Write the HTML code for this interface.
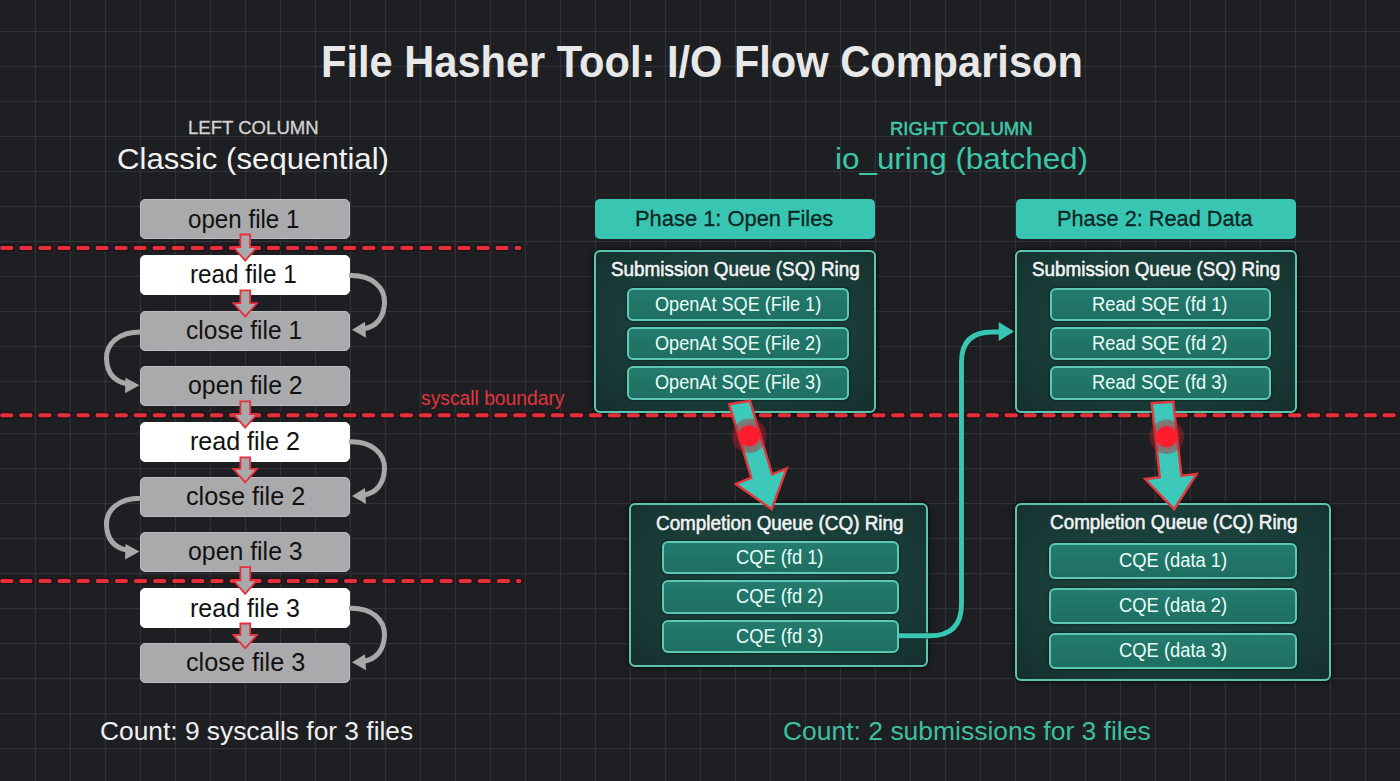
<!DOCTYPE html>
<html><head><meta charset="utf-8"><title>File Hasher Tool: I/O Flow Comparison</title>
<style>
html,body{margin:0;padding:0;}
body{width:1400px;height:781px;overflow:hidden;background:#1e1f22;position:relative;font-family:"Liberation Sans",sans-serif;}
.abs{position:absolute;box-sizing:border-box;}
.t{position:absolute;white-space:nowrap;line-height:1;transform-origin:0 0;}
.lbox{border:1px solid;border-radius:5px;}
.phase{background:#38c6b2;border-radius:5px;}
.ring{border:2.4px solid #5cc4b0;border-radius:6px;background:radial-gradient(ellipse at 50% 45%, #1e4844 0%, #193c38 60%, #152f2d 100%);box-shadow:0 0 0 1px rgba(4,18,18,.7),0 0 6px rgba(0,0,0,.6);}
.item{border:2.4px solid #5ec8b6;border-radius:6px;background:linear-gradient(#247b6d,#1e6f62);box-shadow:0 0 2px 1px rgba(0,20,18,.45);}
</style></head><body>
<svg class="abs" width="1400" height="781" style="left:0;top:0"><g stroke="#313236" stroke-width="1.2"><line x1="35.4" y1="0" x2="35.4" y2="781"/><line x1="70.4" y1="0" x2="70.4" y2="781"/><line x1="105.4" y1="0" x2="105.4" y2="781"/><line x1="140.4" y1="0" x2="140.4" y2="781"/><line x1="175.4" y1="0" x2="175.4" y2="781"/><line x1="210.4" y1="0" x2="210.4" y2="781"/><line x1="245.4" y1="0" x2="245.4" y2="781"/><line x1="280.4" y1="0" x2="280.4" y2="781"/><line x1="315.4" y1="0" x2="315.4" y2="781"/><line x1="350.4" y1="0" x2="350.4" y2="781"/><line x1="385.4" y1="0" x2="385.4" y2="781"/><line x1="420.4" y1="0" x2="420.4" y2="781"/><line x1="455.4" y1="0" x2="455.4" y2="781"/><line x1="490.4" y1="0" x2="490.4" y2="781"/><line x1="525.4" y1="0" x2="525.4" y2="781"/><line x1="560.4" y1="0" x2="560.4" y2="781"/><line x1="595.4" y1="0" x2="595.4" y2="781"/><line x1="630.4" y1="0" x2="630.4" y2="781"/><line x1="665.4" y1="0" x2="665.4" y2="781"/><line x1="700.4" y1="0" x2="700.4" y2="781"/><line x1="735.4" y1="0" x2="735.4" y2="781"/><line x1="770.4" y1="0" x2="770.4" y2="781"/><line x1="805.4" y1="0" x2="805.4" y2="781"/><line x1="840.4" y1="0" x2="840.4" y2="781"/><line x1="875.4" y1="0" x2="875.4" y2="781"/><line x1="910.4" y1="0" x2="910.4" y2="781"/><line x1="945.4" y1="0" x2="945.4" y2="781"/><line x1="980.4" y1="0" x2="980.4" y2="781"/><line x1="1015.4" y1="0" x2="1015.4" y2="781"/><line x1="1050.4" y1="0" x2="1050.4" y2="781"/><line x1="1085.4" y1="0" x2="1085.4" y2="781"/><line x1="1120.4" y1="0" x2="1120.4" y2="781"/><line x1="1155.4" y1="0" x2="1155.4" y2="781"/><line x1="1190.4" y1="0" x2="1190.4" y2="781"/><line x1="1225.4" y1="0" x2="1225.4" y2="781"/><line x1="1260.4" y1="0" x2="1260.4" y2="781"/><line x1="1295.4" y1="0" x2="1295.4" y2="781"/><line x1="1330.4" y1="0" x2="1330.4" y2="781"/><line x1="1365.4" y1="0" x2="1365.4" y2="781"/><line x1="0" y1="31.5" x2="1400" y2="31.5"/><line x1="0" y1="66.5" x2="1400" y2="66.5"/><line x1="0" y1="101.5" x2="1400" y2="101.5"/><line x1="0" y1="136.5" x2="1400" y2="136.5"/><line x1="0" y1="171.5" x2="1400" y2="171.5"/><line x1="0" y1="206.5" x2="1400" y2="206.5"/><line x1="0" y1="241.5" x2="1400" y2="241.5"/><line x1="0" y1="276.5" x2="1400" y2="276.5"/><line x1="0" y1="311.5" x2="1400" y2="311.5"/><line x1="0" y1="346.5" x2="1400" y2="346.5"/><line x1="0" y1="381.5" x2="1400" y2="381.5"/><line x1="0" y1="433.7" x2="1400" y2="433.7"/><line x1="0" y1="468.7" x2="1400" y2="468.7"/><line x1="0" y1="503.7" x2="1400" y2="503.7"/><line x1="0" y1="538.7" x2="1400" y2="538.7"/><line x1="0" y1="573.7" x2="1400" y2="573.7"/><line x1="0" y1="608.7" x2="1400" y2="608.7"/><line x1="0" y1="643.7" x2="1400" y2="643.7"/><line x1="0" y1="678.7" x2="1400" y2="678.7"/><line x1="0" y1="713.7" x2="1400" y2="713.7"/><line x1="0" y1="748.7" x2="1400" y2="748.7"/></g></svg>
<svg class="abs" width="1400" height="781" style="left:0;top:0"><line x1="0.3" y1="248" x2="519.5" y2="248" stroke="#2a0a10" stroke-opacity="0.6" stroke-width="7" stroke-linecap="round" stroke-dasharray="9.4 9.65" stroke-dashoffset="-1.8"/><line x1="0.3" y1="415.2" x2="341" y2="415.2" stroke="#2a0a10" stroke-opacity="0.6" stroke-width="7" stroke-linecap="round" stroke-dasharray="9.4 9.67" stroke-dashoffset="-1.8"/><line x1="343.2" y1="415.2" x2="1400" y2="415.2" stroke="#2a0a10" stroke-opacity="0.6" stroke-width="7" stroke-linecap="round" stroke-dasharray="9.4 9.499999999999998" stroke-dashoffset="-1.8"/><line x1="0.3" y1="581" x2="519.5" y2="581" stroke="#2a0a10" stroke-opacity="0.6" stroke-width="7" stroke-linecap="round" stroke-dasharray="9.4 9.700000000000001" stroke-dashoffset="-1.8"/></svg>
<div class="abs lbox" style="left:140px;top:199px;width:210px;height:40px;background:#aaaaac;border-color:#bdbdbf"></div><div class="abs lbox" style="left:140px;top:254.8px;width:210px;height:40px;background:#ffffff;border-color:#ffffff"></div><div class="abs lbox" style="left:140px;top:310.8px;width:210px;height:40px;background:#aaaaac;border-color:#bdbdbf"></div><div class="abs lbox" style="left:140px;top:365.8px;width:210px;height:40px;background:#aaaaac;border-color:#bdbdbf"></div><div class="abs lbox" style="left:140px;top:421.8px;width:210px;height:40px;background:#ffffff;border-color:#ffffff"></div><div class="abs lbox" style="left:140px;top:476.6px;width:210px;height:40px;background:#aaaaac;border-color:#bdbdbf"></div><div class="abs lbox" style="left:140px;top:531.6px;width:210px;height:40px;background:#aaaaac;border-color:#bdbdbf"></div><div class="abs lbox" style="left:140px;top:588px;width:210px;height:40px;background:#ffffff;border-color:#ffffff"></div><div class="abs lbox" style="left:140px;top:642.6px;width:210px;height:40px;background:#aaaaac;border-color:#bdbdbf"></div><div class="abs phase" style="left:595px;top:199px;width:280px;height:40px"></div><div class="abs phase" style="left:1016px;top:199px;width:280px;height:40px"></div><div class="abs ring" style="left:594px;top:250px;width:282px;height:162.8px"></div><div class="abs ring" style="left:1015px;top:250px;width:282px;height:162.5px"></div><div class="abs item" style="left:627px;top:287.8px;width:221.5px;height:33.0px"></div><div class="abs item" style="left:1049.5px;top:287.8px;width:221.5px;height:33.0px"></div><div class="abs item" style="left:627px;top:326.9px;width:221.5px;height:33.200000000000045px"></div><div class="abs item" style="left:1049.5px;top:326.9px;width:221.5px;height:33.200000000000045px"></div><div class="abs item" style="left:627px;top:366px;width:221.5px;height:33.80000000000001px"></div><div class="abs item" style="left:1049.5px;top:366px;width:221.5px;height:33.80000000000001px"></div><div class="abs ring" style="left:629.2px;top:503px;width:299.0px;height:164px"></div><div class="abs ring" style="left:1015.3px;top:502.8px;width:315.9000000000001px;height:178.09999999999997px"></div><div class="abs item" style="left:661.5px;top:541.1px;width:237.5px;height:33.39999999999998px"></div><div class="abs item" style="left:1049.4px;top:543px;width:247.5999999999999px;height:35.799999999999955px"></div><div class="abs item" style="left:661.5px;top:580.3px;width:237.5px;height:33.40000000000009px"></div><div class="abs item" style="left:1049.4px;top:587.9px;width:247.5999999999999px;height:35.89999999999998px"></div><div class="abs item" style="left:661.5px;top:620px;width:237.5px;height:32.89999999999998px"></div><div class="abs item" style="left:1049.4px;top:632.5px;width:247.5999999999999px;height:36.60000000000002px"></div>
<svg class="abs" width="1400" height="781" style="left:0;top:0"><defs><radialGradient id="glow"><stop offset="0" stop-color="#ff1c2c"/><stop offset="0.55" stop-color="#ff1c2c"/><stop offset="0.61" stop-color="#d0202e" stop-opacity="0.55"/><stop offset="0.93" stop-color="#b81c2a" stop-opacity="0.38"/><stop offset="1" stop-color="#c02030" stop-opacity="0"/></radialGradient></defs><line x1="0.3" y1="248" x2="519.5" y2="248" stroke="#e5303b" stroke-width="3.9" stroke-linecap="round" stroke-dasharray="9.4 9.65" stroke-dashoffset="-1.8"/><line x1="0.3" y1="415.2" x2="341" y2="415.2" stroke="#e5303b" stroke-width="3.9" stroke-linecap="round" stroke-dasharray="9.4 9.67" stroke-dashoffset="-1.8"/><line x1="343.2" y1="415.2" x2="1400" y2="415.2" stroke="#e5303b" stroke-width="3.9" stroke-linecap="round" stroke-dasharray="9.4 9.499999999999998" stroke-dashoffset="-1.8"/><line x1="0.3" y1="581" x2="519.5" y2="581" stroke="#e5303b" stroke-width="3.9" stroke-linecap="round" stroke-dasharray="9.4 9.700000000000001" stroke-dashoffset="-1.8"/><polygon points="240.4,234.5 250.2,234.5 250.2,247.10000000000002 257,247.10000000000002 245.2,260.6 233.4,247.10000000000002 240.4,247.10000000000002" fill="#a9a9ab" stroke="#e5303b" stroke-width="1.8" stroke-linejoin="miter"/><polygon points="240.4,290.3 250.2,290.3 250.2,303.1 257,303.1 245.2,316.6 233.4,303.1 240.4,303.1" fill="#a9a9ab" stroke="#e5303b" stroke-width="1.8" stroke-linejoin="miter"/><polygon points="240.4,401.3 250.2,401.3 250.2,414.1 257,414.1 245.2,427.6 233.4,414.1 240.4,414.1" fill="#a9a9ab" stroke="#e5303b" stroke-width="1.8" stroke-linejoin="miter"/><polygon points="240.4,457.3 250.2,457.3 250.2,468.90000000000003 257,468.90000000000003 245.2,482.40000000000003 233.4,468.90000000000003 240.4,468.90000000000003" fill="#a9a9ab" stroke="#e5303b" stroke-width="1.8" stroke-linejoin="miter"/><polygon points="240.4,567.1 250.2,567.1 250.2,580.3 257,580.3 245.2,593.8 233.4,580.3 240.4,580.3" fill="#a9a9ab" stroke="#e5303b" stroke-width="1.8" stroke-linejoin="miter"/><polygon points="240.4,623.5 250.2,623.5 250.2,634.9 257,634.9 245.2,648.4 233.4,634.9 240.4,634.9" fill="#a9a9ab" stroke="#e5303b" stroke-width="1.8" stroke-linejoin="miter"/><path d="M349,275.6 C372,274.6 385,287.6 384.5,302.65 C384,317.7 376,326.7 364,328.7" fill="none" stroke="#a8a8a8" stroke-width="5"/><polygon points="352,329.7 365,321.7 366,337.7" fill="#a8a8a8"/><path d="M349,441.90000000000003 C372,440.90000000000003 385,453.90000000000003 384.5,468.95000000000005 C384,484.0 376,493.0 364,495.0" fill="none" stroke="#a8a8a8" stroke-width="5"/><polygon points="352,496.0 365,488.0 366,504.0" fill="#a8a8a8"/><path d="M349,608.2 C372,607.2 385,620.2 384.5,635.25 C384,650.3 376,659.3 364,661.3" fill="none" stroke="#a8a8a8" stroke-width="5"/><polygon points="352,662.3 365,654.3 366,670.3" fill="#a8a8a8"/><path d="M141,332.0 C118,332.0 106,344.0 106.5,358.65 C107,373.3 114,381.3 127,383.8" fill="none" stroke="#a8a8a8" stroke-width="5"/><polygon points="139.5,385.3 125.5,377.8 125,393.3" fill="#a8a8a8"/><path d="M141,498.3 C118,498.3 106,510.3 106.5,524.95 C107,539.6 114,547.6 127,550.1" fill="none" stroke="#a8a8a8" stroke-width="5"/><polygon points="139.5,551.6 125.5,544.1 125,559.6" fill="#a8a8a8"/><path d="M899,635.8 L930,635.8 Q961.5,635.8 961.5,604 L961.5,362 Q961.5,332 992,332 L1000,332" fill="none" stroke="#0f1c1c" stroke-width="7" opacity="0.6"/><path d="M899,635.8 L930,635.8 Q961.5,635.8 961.5,604 L961.5,362 Q961.5,332 992,332 L1000,332" fill="none" stroke="#38c6b2" stroke-width="4.9"/><polygon points="998.7,322 1014,331.5 998.7,341" fill="#38c6b2"/><polygon points="729.2,404.2 750.0,400.8 772.1,474.3 786.7,468.3 771.7,509.2 735.8,484.0 751.3,477.7" fill="#3cc9b9" stroke="#e0383c" stroke-width="2.4" stroke-linejoin="miter"/><circle cx="749.2" cy="435.8" r="18" fill="url(#glow)"/><polygon points="1151.7,403.3 1173.3,401.7 1181.4,475.7 1196.7,474.0 1174.2,509.2 1145.0,479.0 1159.8,477.3" fill="#3cc9b9" stroke="#e0383c" stroke-width="2.4" stroke-linejoin="miter"/><circle cx="1166.7" cy="436.7" r="18" fill="url(#glow)"/></svg>
<div class="t" style="left:321.2px;top:38.91px;font-size:45px;color:#e8e8e8;font-weight:700;transform:scaleX(0.9243)">File Hasher Tool: I/O Flow Comparison</div><div class="t" style="left:187.6px;top:119.42px;font-size:18.4px;color:#d4d4d4;font-weight:400;-webkit-text-stroke:0.3px #d4d4d4;transform:scaleX(1.0095)">LEFT COLUMN</div><div class="t" style="left:116.8px;top:144.20px;font-size:30px;color:#f2f2f2;font-weight:400;transform:scaleX(1.0391)">Classic (sequential)</div><div class="t" style="left:889.9px;top:119.62px;font-size:18.4px;color:#3cc7a9;font-weight:400;-webkit-text-stroke:0.55px #3cc7a9;transform:scaleX(1.0058)">RIGHT COLUMN</div><div class="t" style="left:834.9px;top:144.30px;font-size:30px;color:#3cc7a9;font-weight:400;transform:scaleX(1.0462)">io_uring (batched)</div><div class="t" style="left:100.0px;top:718.94px;font-size:25.7px;color:#f0f0f0;font-weight:400;transform:scaleX(1.0250)">Count: 9 syscalls for 3 files</div><div class="t" style="left:782.7px;top:719.14px;font-size:25.7px;color:#3cc0a0;font-weight:400;transform:scaleX(1.0301)">Count: 2 submissions for 3 files</div><div class="t" style="left:420.6px;top:387.77px;font-size:20px;color:#e0353c;font-weight:400;transform:scaleX(0.9628)">syscall boundary</div><div class="t" style="left:187.9px;top:205.69px;font-size:26px;color:#111111;font-weight:400;transform:scaleX(0.9288)">open file 1</div><div class="t" style="left:189.7px;top:261.49px;font-size:26px;color:#111111;font-weight:400;transform:scaleX(0.9342)">read file 1</div><div class="t" style="left:185.8px;top:317.49px;font-size:26px;color:#111111;font-weight:400;transform:scaleX(0.9446)">close file 1</div><div class="t" style="left:187.8px;top:372.49px;font-size:26px;color:#111111;font-weight:400;transform:scaleX(0.9559)">open file 2</div><div class="t" style="left:189.7px;top:428.49px;font-size:26px;color:#111111;font-weight:400;transform:scaleX(0.9631)">read file 2</div><div class="t" style="left:185.7px;top:483.29px;font-size:26px;color:#111111;font-weight:400;transform:scaleX(0.9711)">close file 2</div><div class="t" style="left:187.8px;top:538.29px;font-size:26px;color:#111111;font-weight:400;transform:scaleX(0.9559)">open file 3</div><div class="t" style="left:189.7px;top:594.69px;font-size:26px;color:#111111;font-weight:400;transform:scaleX(0.9631)">read file 3</div><div class="t" style="left:185.7px;top:649.29px;font-size:26px;color:#111111;font-weight:400;transform:scaleX(0.9711)">close file 3</div><div class="t" style="left:635.1px;top:207.02px;font-size:22.9px;color:#0c2624;font-weight:400;-webkit-text-stroke:0.3px #0c2624;transform:scaleX(0.9561)">Phase 1: Open Files</div><div class="t" style="left:1057.1px;top:207.02px;font-size:22.9px;color:#0c2624;font-weight:400;-webkit-text-stroke:0.3px #0c2624;transform:scaleX(0.9490)">Phase 2: Read Data</div><div class="t" style="left:610.9px;top:258.57px;font-size:20px;color:#f4f4f4;font-weight:400;-webkit-text-stroke:0.55px #f4f4f4;transform:scaleX(0.9441)">Submission Queue (SQ) Ring</div><div class="t" style="left:1032.1px;top:258.57px;font-size:20px;color:#f4f4f4;font-weight:400;-webkit-text-stroke:0.55px #f4f4f4;transform:scaleX(0.9425)">Submission Queue (SQ) Ring</div><div class="t" style="left:654.6px;top:294.69px;font-size:19.5px;color:#eafffa;font-weight:400;transform:scaleX(0.9294)">OpenAt SQE (File 1)</div><div class="t" style="left:1092.3px;top:294.69px;font-size:19.5px;color:#eafffa;font-weight:400;transform:scaleX(0.9397)">Read SQE (fd 1)</div><div class="t" style="left:654.6px;top:333.79px;font-size:19.5px;color:#eafffa;font-weight:400;transform:scaleX(0.9294)">OpenAt SQE (File 2)</div><div class="t" style="left:1092.3px;top:333.79px;font-size:19.5px;color:#eafffa;font-weight:400;transform:scaleX(0.9397)">Read SQE (fd 2)</div><div class="t" style="left:654.6px;top:372.89px;font-size:19.5px;color:#eafffa;font-weight:400;transform:scaleX(0.9294)">OpenAt SQE (File 3)</div><div class="t" style="left:1092.3px;top:372.89px;font-size:19.5px;color:#eafffa;font-weight:400;transform:scaleX(0.9397)">Read SQE (fd 3)</div><div class="t" style="left:655.5px;top:512.57px;font-size:20px;color:#f4f4f4;font-weight:400;-webkit-text-stroke:0.55px #f4f4f4;transform:scaleX(0.9435)">Completion Queue (CQ) Ring</div><div class="t" style="left:1049.5px;top:512.37px;font-size:20px;color:#f4f4f4;font-weight:400;-webkit-text-stroke:0.55px #f4f4f4;transform:scaleX(0.9438)">Completion Queue (CQ) Ring</div><div class="t" style="left:736.1px;top:548.09px;font-size:19.5px;color:#eafffa;font-weight:400;transform:scaleX(0.9385)">CQE (fd 1)</div><div class="t" style="left:1119.4px;top:551.19px;font-size:19.5px;color:#eafffa;font-weight:400;transform:scaleX(0.9416)">CQE (data 1)</div><div class="t" style="left:736.1px;top:587.29px;font-size:19.5px;color:#eafffa;font-weight:400;transform:scaleX(0.9385)">CQE (fd 2)</div><div class="t" style="left:1119.4px;top:596.14px;font-size:19.5px;color:#eafffa;font-weight:400;transform:scaleX(0.9416)">CQE (data 2)</div><div class="t" style="left:736.1px;top:626.74px;font-size:19.5px;color:#eafffa;font-weight:400;transform:scaleX(0.9385)">CQE (fd 3)</div><div class="t" style="left:1119.4px;top:641.09px;font-size:19.5px;color:#eafffa;font-weight:400;transform:scaleX(0.9416)">CQE (data 3)</div>
</body></html>
